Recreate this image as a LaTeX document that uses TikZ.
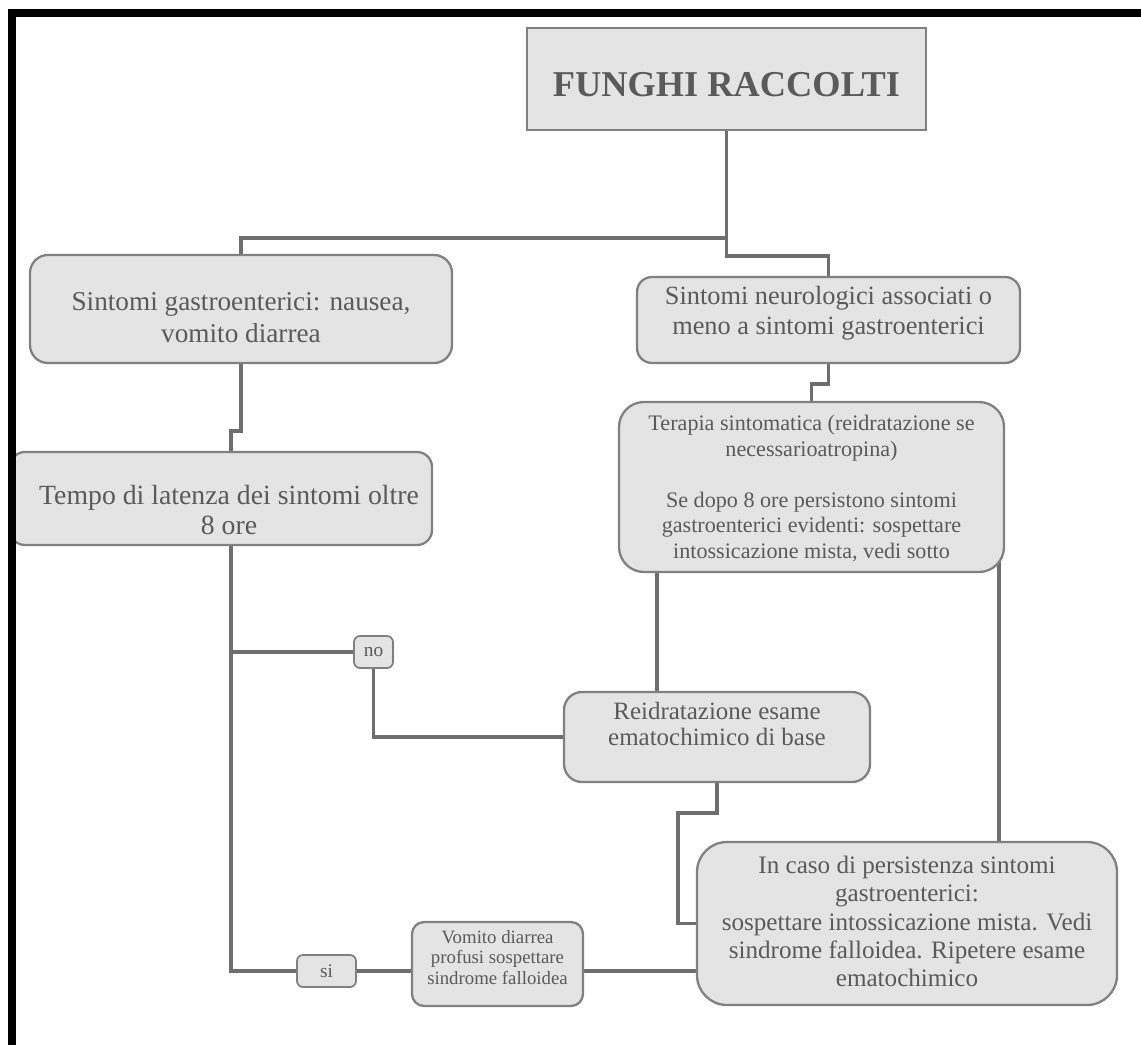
\documentclass[tikz,border=0pt]{standalone}
\usepackage{fontspec}
\setmainfont{Liberation Serif}
\usetikzlibrary{fit,calc}
\definecolor{boxfill}{HTML}{E4E4E4}
\definecolor{boxline}{HTML}{808080}
\definecolor{connc}{HTML}{6E6E6E}
\definecolor{txtc}{HTML}{5A5A5A}
\pgfdeclarelayer{bg}
\pgfdeclarelayer{fg}
\pgfsetlayers{bg,main,fg}
\tikzset{
  conn/.style={draw=connc, line width=2.2pt},
  box/.style={draw=boxline, fill=boxfill, line width=1.3pt, inner sep=0pt, rectangle},
  txt/.style={text=txtc, align=center, inner sep=0pt, anchor=north},
  lbl/.style={text=txtc, inner sep=0pt, font=\fontsize{11}{12}\selectfont},
}
\begin{document}
\begin{tikzpicture}[x=0.02cm, y=-0.02cm]
\useasboundingbox (0,0) rectangle (1141,1044);
\clip (0,0) rectangle (1141,1044);

% outer frame (open at the bottom), drawn above everything
\begin{pgfonlayer}{fg}
\draw[line width=0.16cm, black] (12,1060) -- (12,13) -- (1145,13) -- (1145,1060);
\end{pgfonlayer}

% boxes
\node[box, line width=1pt, fit={(527,28) (926,130)}] (title) {};
\node[text=txtc, inner sep=0pt, font=\bfseries\fontsize{20.7}{24}\selectfont] (titleT) at (726.5,85) {FUNGHI RACCOLTI};

\node[box, rounded corners=0.36cm, fit={(30,255) (452,363)}] (gastro) {};
\node[txt, font=\fontsize{15.5}{18.1}\selectfont] (gastroT) at (241,292)
  {Sintomi gastroenterici: nausea,\\vomito diarrea};

\node[box, rounded corners=0.3cm, fit={(637,277) (1020,363)}] (neuro) {};
\node[txt, font=\fontsize{15}{17}\selectfont] (neuroT) at (828.5,286)
  {Sintomi neurologici associati o\\meno a sintomi gastroenterici};

\node[box, rounded corners=0.5cm, fit={(619,402) (1004,572)}] (terapia) {};
\node[txt, font=\fontsize{12.6}{14.5}\selectfont] (terapiaT) at (811.5,415)
  {Terapia sintomatica (reidratazione se\\necessarioatropina)\\[14.5pt]
   Se dopo 8 ore persistono sintomi\\gastroenterici evidenti: sospettare\\intossicazione mista, vedi sotto};

\node[box, rounded corners=0.3cm, fit={(10,452) (432,545)}] (tempo) {};
\node[txt, font=\fontsize{15.8}{17}\selectfont] (tempoT) at (229,485)
  {Tempo di latenza dei sintomi oltre\\8 ore};

\node[box, rounded corners=0.12cm, line width=1pt, fit={(354,636) (393,668)}] (no) {};
\node[lbl] (noT) at (373.5,652) {no};

\node[box, rounded corners=0.36cm, fit={(564,692) (870,782)}] (reid) {};
\node[txt, font=\fontsize{14.2}{14.7}\selectfont] (reidT) at (717,702)
  {Reidratazione esame\\ematochimico di base};

\node[box, rounded corners=0.6cm, fit={(697,842) (1117,1005)}] (incaso) {};
\node[txt, font=\fontsize{14.3}{16}\selectfont] (incasoT) at (907,856)
  {In caso di persistenza sintomi\\gastroenterici:\\sospettare intossicazione mista. Vedi\\sindrome falloidea. Ripetere esame\\ematochimico};

\node[box, rounded corners=0.12cm, line width=1pt, fit={(297,955) (356,987)}] (si) {};
\node[lbl] (siT) at (326.5,971) {si};

\node[box, rounded corners=0.24cm, fit={(412,922) (583,1006)}] (vomito) {};
\node[txt, font=\fontsize{10.7}{11.6}\selectfont] (vomitoT) at (497.5,930)
  {Vomito diarrea\\profusi sospettare\\sindrome falloidea};

% connectors, kept behind the boxes
\begin{pgfonlayer}{bg}
\coordinate (split) at ($(title.south)+(0,107)$);
\draw[conn] (title.south) -- (split) -| (gastro.north);
\draw[conn] (split) -- ++(0,18) -| (neuro.north);
\coordinate (tempoIn) at (231,452);
\draw[conn] (gastro.south) -- ++(0,67) -| (tempoIn);
\draw[conn] (neuro.south) -- ++(0,20) -| (terapia.north);
\coordinate (tempoOut) at (231,545);
\draw[conn] (tempoOut) |- (si.west);
\coordinate (nob) at (tempoOut |- no.west);
\draw[conn] (nob) -- (no.west);
\draw[conn] (no.south) |- (reid.west);
\coordinate (rA) at ($(reid.north)+(-60,0)$);
\draw[conn] (terapia.south -| rA) -- (rA);
\coordinate (tR) at ($(terapia.south east)+(-6,-20)$);
\draw[conn] (tR) -- (incaso.north -| tR);
\draw[conn] (reid.south) -- ++(0,30) -- ++(-39,0) |- (incaso.west);
\draw[conn] (si.east) -- (si.east -| vomito.west);
\draw[conn] (vomito.east |- si.east) -- (incaso.west |- si.east);
\end{pgfonlayer}
\end{tikzpicture}
\end{document}
